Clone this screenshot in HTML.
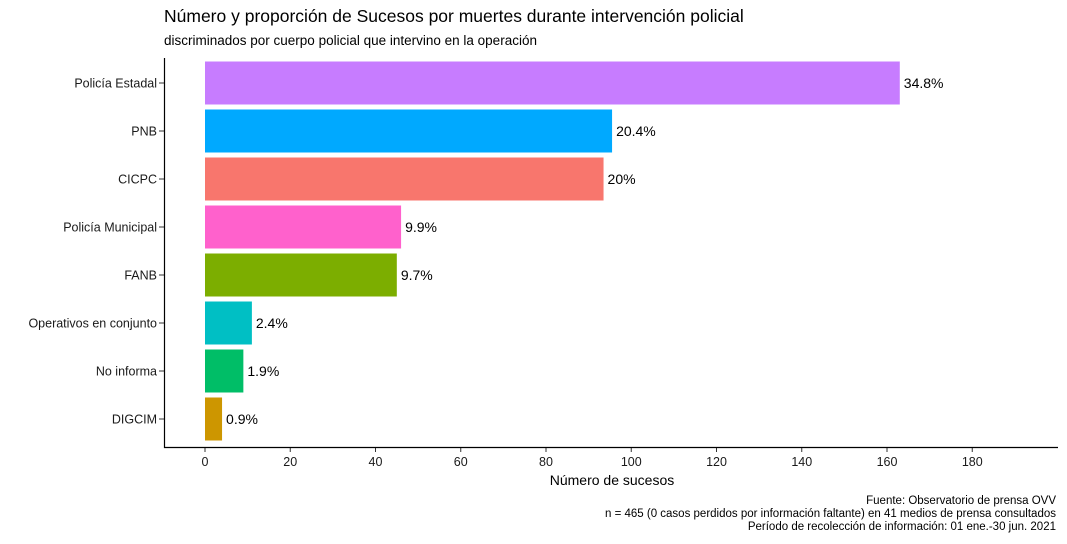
<!DOCTYPE html>
<html><head><meta charset="utf-8"><style>
body{margin:0;background:#fff;width:1067px;height:539px;overflow:hidden;font-family:"Liberation Sans",sans-serif}
</style></head><body>
<svg id="chart" width="1067" height="539" xmlns="http://www.w3.org/2000/svg" font-family="Liberation Sans, sans-serif">
<text x="164" y="22" font-size="17.5" fill="#000">Número y proporción de Sucesos por muertes durante intervención policial</text>
<text x="164" y="45" font-size="13.5" fill="#000">discriminados por cuerpo policial que intervino en la operación</text>
<g id="bars"></g>
<g id="axes"></g>
<text x="612" y="485" font-size="14" text-anchor="middle">Número de sucesos</text>
<text x="1056" y="504" font-size="11.5" text-anchor="end">Fuente: Observatorio de prensa OVV</text>
<text x="1056" y="517" font-size="11.5" text-anchor="end">n = 465 (0 casos perdidos por información faltante) en 41 medios de prensa consultados</text>
<text x="1056" y="530" font-size="11.5" text-anchor="end">Período de recolección de información: 01 ene.-30 jun. 2021</text>
</svg>
<script>
const categories=["Policía Estadal","PNB","CICPC","Policía Municipal","FANB","Operativos en conjunto","No informa","DIGCIM"];
const values=[163,95.5,93.5,46,45,11,9,4];
const labels=["34.8%","20.4%","20%","9.9%","9.7%","2.4%","1.9%","0.9%"];
const colors=["#C77CFF","#00A9FF","#F8766D","#FF61CC","#7CAE00","#00BFC4","#00BE67","#CD9600"];
const ticks=[0,20,40,60,80,100,120,140,160,180];
const NS="http://www.w3.org/2000/svg";
const x=v=>205+v*4.2625;
const yc=i=>83+i*48;
const bh=43;
const bars=document.getElementById('bars'),axes=document.getElementById('axes');
function mk(tag,a,p){const e=document.createElementNS(NS,tag);for(const k in a)e.setAttribute(k,a[k]);p.appendChild(e);return e;}
categories.forEach((c,i)=>{
  const r=mk('rect',{x:x(0),y:yc(i)-bh/2,width:x(values[i])-x(0),height:bh,fill:colors[i]},bars);
  
  
  const t=mk('text',{x:x(values[i])+4,y:yc(i)+5,'font-size':14},bars);t.textContent=labels[i];
  
  
  const l=mk('text',{x:157,y:yc(i)+4.5,'font-size':12.5,'text-anchor':'end',fill:'#1a1a1a'},axes);l.textContent=c;
  
  
  mk('line',{x1:159,x2:164,y1:yc(i),y2:yc(i),stroke:'#333'},axes);
});
ticks.forEach(v=>{
  mk('line',{x1:x(v),x2:x(v),y1:447,y2:452,stroke:'#333'},axes);
  const t=mk('text',{x:x(v),y:466,'font-size':12.5,'text-anchor':'middle',fill:'#1a1a1a'},axes);t.textContent=v;
  
  
});
const ax=mk('path',{d:'M164.5 58 V447.5 H1058',fill:'none',stroke:'#000','stroke-width':1.2},axes);


</script>
</body></html>
